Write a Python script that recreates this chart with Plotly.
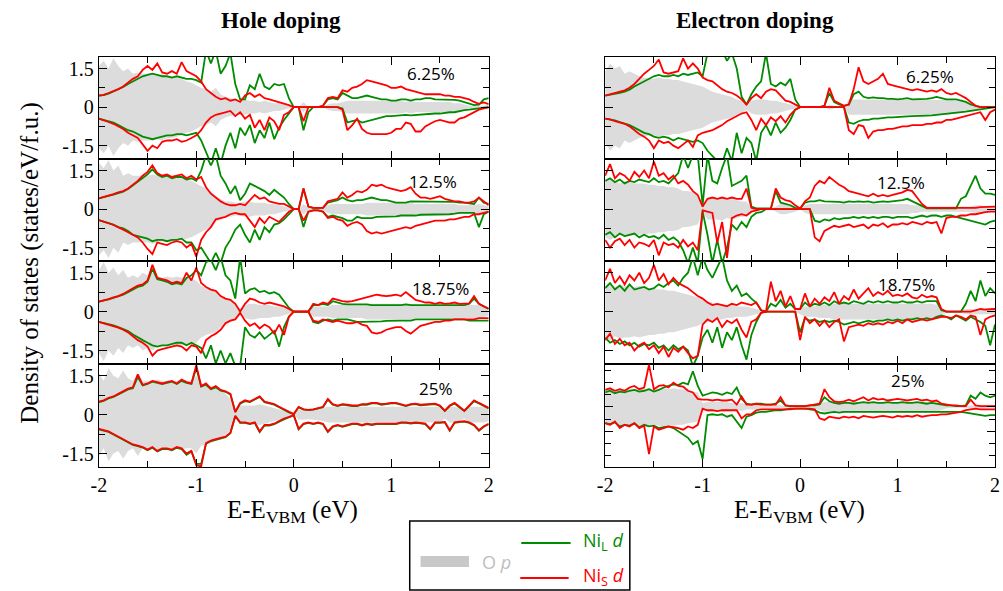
import plotly.graph_objects as go

# Energy grid (eV relative to VBM)
E = [round(-2 + 0.05 * i, 2) for i in range(81)]

# ---------------- Hole doping 6.25% ----------------
hole625_O = [1.6,1.8,1.5,1.9,1.6,1.4,1.5,1.3,1.35,1.3,
 1.3,1.3,1.25,1.3,1.2,1.2,1.15,1.1,1.0,0.95,
 0.85,0.75,0.7,0.6,0.75,0.5,0.4,0.35,0.3,0.3,
 0.3,0.25,0.25,0.2,0.25,0.2,0.15,0.15,0.1,0.05,
 0,0,0.2,0,0,0,0,0.1,0.15,0.15,
 0.2,0.25,0.25,0.25,0.25,0.25,0.25,0.25,0.25,0.25,
 0.25,0.25,0.25,0.2,0.25,0.2,0.2,0.2,0.2,0.2,
 0.2,0.2,0.2,0.15,0.15,0.1,0.05,0.03,0.05,0.05,
 0.1]
hole625_NiS_up = [0.45,0.48,0.55,0.62,0.7,0.8,0.95,1.1,1.2,1.45,
 1.6,1.45,1.7,1.35,1.3,1.4,1.3,1.75,1.4,1.3,
 1.2,1.0,0.7,0.55,0.4,0.3,0.35,0.25,0.3,0.2,
 0.45,0.55,0.4,0.5,0.35,0.3,0.25,0.2,0.15,0.08,
 0,0,0,0,0,0,0.05,0.35,0.4,0.35,
 0.65,0.6,0.75,0.8,0.9,1.05,1.0,0.95,0.9,0.85,
 0.75,0.75,0.8,0.7,0.65,0.6,0.55,0.5,0.5,0.5,
 0.5,0.45,0.45,0.4,0.4,0.35,0.3,0.2,0.13,0.18,
 0.12]
hole625_NiL_up = [0.45,0.47,0.52,0.6,0.68,0.78,0.9,1.0,1.1,1.2,
 1.25,1.3,1.25,1.2,1.2,1.15,1.2,1.15,1.1,1.1,
 1.05,0.95,2.2,1.7,2.2,1.3,1.6,2.1,0.9,0.3,
 0.3,0.85,0.7,1.3,0.8,0.7,0.9,0.85,0.9,0.35,
 0,0,0,0,0,0,0.05,0.3,0.35,0.3,
 0.55,0.45,0.35,0.35,0.4,0.45,0.4,0.35,0.3,0.3,
 0.25,0.25,0.3,0.3,0.25,0.3,0.3,0.35,0.35,0.3,
 0.3,0.3,0.3,0.28,0.25,0.2,0.15,0.08,0.1,0.3,
 0.35]
hole625_NiS_dn = [0.45,0.5,0.58,0.65,0.75,0.85,1.0,1.1,1.2,1.45,
 1.7,1.5,1.6,1.35,1.3,1.3,1.25,1.35,1.3,1.2,
 1.1,0.9,0.6,0.4,0.3,0.25,0.2,0.15,0.35,0.2,
 0.45,0.3,0.8,0.5,0.9,0.4,0.55,0.9,0.3,0.2,
 0,0,0.55,0,0,0,0,0,0,0,
 0.1,0.9,0.7,0.45,0.85,1.0,1.05,1.05,1.05,1.05,
 1.0,0.85,0.85,0.6,0.65,0.95,0.95,0.75,0.65,0.55,
 0.5,0.55,0.6,0.6,0.45,0.4,0.3,0.2,0.1,0.05,
 0.0]
hole625_NiL_dn = [0.45,0.5,0.55,0.6,0.7,0.8,0.9,0.95,1.05,1.15,
 1.2,1.25,1.2,1.15,1.1,1.1,1.05,1.05,1.1,1.05,
 1.0,1.3,1.8,2.2,1.6,2.2,1.5,1.0,1.6,0.8,
 1.1,0.7,1.4,0.9,1.2,0.6,1.25,0.8,0.5,0.25,
 0,0,0.9,0.2,0,0,0,0,0,0,
 0.05,0.6,0.55,0.5,0.6,0.55,0.5,0.45,0.4,0.35,
 0.35,0.33,0.32,0.3,0.32,0.3,0.3,0.28,0.25,0.25,
 0.25,0.22,0.2,0.2,0.15,0.12,0.1,0.08,0.05,0.02,
 0.0]

# ---------------- Hole doping 12.5% ----------------
hole125_O = [1.8,1.6,1.9,1.5,1.7,1.3,1.4,1.3,1.3,1.3,
 1.3,1.35,1.3,1.25,1.3,1.25,1.2,1.2,1.15,1.1,
 1.0,0.9,0.8,0.7,0.5,0.4,0.3,0.3,0.25,0.25,
 0.3,0.3,0.25,0.25,0.25,0.2,0.2,0.15,0.1,0.05,
 0,0,0.2,0.05,0.03,0.03,0.05,0.15,0.2,0.2,
 0.2,0.2,0.2,0.2,0.2,0.25,0.25,0.25,0.25,0.25,
 0.25,0.25,0.25,0.25,0.25,0.2,0.2,0.2,0.2,0.2,
 0.2,0.2,0.2,0.2,0.15,0.15,0.15,0.15,0.2,0.15,
 0.1]
hole125_NiS_up = [0.42,0.47,0.52,0.58,0.65,0.7,0.8,0.95,1.1,1.3,
 1.45,1.7,1.4,1.3,1.35,1.25,1.3,1.35,1.2,1.3,
 1.15,1.25,0.85,0.6,0.45,0.3,0.2,0.15,0.15,0.2,
 0.15,0.35,0.55,0.4,0.45,0.3,0.25,0.2,0.2,0.1,
 0,0,0.8,0.1,0.05,0.05,0.05,0.3,0.35,0.4,
 0.65,0.45,0.55,0.7,0.65,0.75,0.95,0.9,0.95,0.85,
 0.8,0.75,0.7,0.75,0.85,0.6,0.45,0.45,0.4,0.45,
 0.5,0.4,0.35,0.3,0.3,0.25,0.25,0.3,0.45,0.3,
 0.15]
hole125_NiL_up = [0.42,0.46,0.5,0.56,0.62,0.68,0.78,0.92,1.05,1.2,
 1.35,1.55,1.35,1.25,1.3,1.2,1.25,1.25,1.15,1.2,
 1.1,1.5,2.1,1.7,2.1,1.3,1.0,0.6,0.9,0.35,
 0.6,1.0,0.9,0.8,0.7,0.55,0.75,0.6,0.45,0.2,
 0,0,0.8,0.1,0.05,0.05,0.05,0.25,0.3,0.35,
 0.45,0.35,0.3,0.35,0.35,0.4,0.45,0.4,0.35,0.35,
 0.3,0.25,0.25,0.25,0.3,0.3,0.3,0.3,0.3,0.3,
 0.3,0.3,0.3,0.28,0.25,0.25,0.22,0.2,0.45,0.25,
 0.2]
hole125_NiS_dn = [0.43,0.48,0.55,0.62,0.7,0.8,0.9,1.0,1.1,1.3,
 1.55,1.75,1.3,1.35,1.4,1.3,1.25,1.3,1.5,1.35,
 1.85,1.2,0.9,0.7,0.4,0.35,0.3,0.2,0.15,0.2,
 0.2,0.45,0.7,0.35,0.55,0.3,0.4,0.5,0.3,0.1,
 0,0,0.45,0.1,0.05,0.05,0.1,0.35,0.3,0.4,
 0.45,0.65,0.55,0.5,0.6,0.85,0.95,0.9,0.95,0.9,
 0.85,0.8,0.75,0.7,0.75,0.65,0.6,0.55,0.5,0.45,
 0.45,0.45,0.4,0.4,0.35,0.3,0.3,0.2,0.2,0.15,
 0.1]
hole125_NiL_dn = [0.43,0.48,0.55,0.6,0.7,0.75,0.85,1.0,1.05,1.1,
 1.15,1.25,1.2,1.2,1.25,1.2,1.2,1.15,1.3,1.3,
 1.6,1.5,1.8,2.1,1.7,2.1,1.5,1.2,0.8,0.6,
 1.0,1.3,0.8,1.2,0.7,0.9,0.6,0.55,0.4,0.2,
 0,0,0.7,0.1,0.05,0.05,0.1,0.3,0.25,0.3,
 0.35,0.45,0.45,0.3,0.35,0.35,0.35,0.3,0.3,0.3,
 0.3,0.28,0.25,0.25,0.25,0.25,0.22,0.22,0.2,0.2,
 0.2,0.2,0.2,0.18,0.15,0.15,0.15,0.15,0.7,0.2,
 0.1]

# ---------------- Hole doping 18.75% ----------------
hole1875_O = [1.6,1.9,1.5,1.7,1.4,1.6,1.3,1.4,1.3,1.5,
 1.4,1.5,1.35,1.3,1.35,1.3,1.35,1.3,1.3,1.25,
 1.2,1.0,0.9,0.85,0.8,0.6,0.5,0.4,0.3,0.1,
 0.25,0.3,0.3,0.25,0.25,0.25,0.2,0.2,0.15,0.08,
 0,0,0,0,0.2,0.2,0.2,0.2,0.25,0.25,
 0.25,0.25,0.25,0.25,0.25,0.3,0.3,0.3,0.3,0.3,
 0.3,0.3,0.3,0.3,0.3,0.25,0.25,0.25,0.25,0.25,
 0.25,0.25,0.25,0.25,0.25,0.25,0.25,0.25,0.25,0.2,
 0.15]
hole1875_NiS_up = [0.38,0.42,0.48,0.55,0.6,0.68,0.8,0.9,1.0,1.05,
 1.2,1.8,1.3,1.25,1.2,1.1,1.15,1.1,1.5,1.2,
 1.7,1.1,0.95,0.85,0.8,0.6,0.5,0.45,0.3,0.0,
 0.3,0.5,0.45,0.35,0.3,0.35,0.3,0.25,0.2,0.1,
 0,0,0,0,0.3,0.25,0.35,0.3,0.5,0.45,
 0.4,0.38,0.4,0.45,0.5,0.55,0.6,0.65,0.62,0.6,
 0.62,0.65,0.6,0.75,0.6,0.45,0.4,0.35,0.35,0.3,
 0.35,0.3,0.32,0.35,0.3,0.3,0.32,0.6,0.3,0.2,
 0.12]
hole1875_NiL_up = [0.38,0.42,0.47,0.53,0.58,0.65,0.75,0.85,0.95,1.0,
 1.15,1.65,1.25,1.2,1.15,1.05,1.1,1.05,1.3,1.4,
 1.6,1.4,1.9,2.0,1.6,2.1,1.4,1.2,0.5,2.1,
 0.7,0.85,0.9,0.75,0.8,0.7,0.75,0.65,0.4,0.15,
 0,0,0,0,0.25,0.25,0.3,0.25,0.4,0.35,
 0.3,0.28,0.28,0.3,0.3,0.28,0.25,0.25,0.25,0.25,
 0.25,0.25,0.25,0.28,0.25,0.25,0.25,0.25,0.25,0.25,
 0.25,0.25,0.25,0.25,0.25,0.25,0.3,0.5,0.3,0.2,
 0.1]
hole1875_NiS_dn = [0.4,0.45,0.5,0.55,0.62,0.7,0.8,0.95,1.1,1.2,
 1.35,1.7,1.5,1.45,1.4,1.35,1.3,1.35,1.5,1.3,
 1.35,1.6,1.1,0.95,0.85,0.7,0.45,0.35,0.3,0.05,
 0.35,0.55,0.45,0.65,0.5,0.6,0.85,0.5,0.9,0.2,
 0,0,0,0,0.35,0.4,0.3,0.35,0.4,0.35,
 0.4,0.45,0.45,0.4,0.5,0.55,0.8,0.85,0.8,0.7,
 0.65,0.6,0.6,0.75,0.85,0.7,0.55,0.5,0.45,0.4,
 0.4,0.35,0.35,0.3,0.3,0.3,0.3,0.3,0.25,0.25,
 0.25]
hole1875_NiL_dn = [0.4,0.44,0.48,0.53,0.6,0.66,0.75,0.88,1.0,1.1,
 1.2,1.3,1.35,1.3,1.3,1.25,1.2,1.2,1.3,1.2,
 1.3,1.4,1.8,1.3,2.0,1.5,2.0,1.6,2.1,2.1,
 0.6,0.9,1.0,0.8,1.05,0.9,0.75,1.35,0.6,0.2,
 0,0,0,0,0.4,0.45,0.35,0.3,0.35,0.3,
 0.3,0.3,0.35,0.4,0.4,0.4,0.4,0.4,0.38,0.36,
 0.35,0.35,0.35,0.35,0.35,0.3,0.3,0.3,0.3,0.3,
 0.3,0.3,0.3,0.3,0.3,0.3,0.35,0.35,0.35,0.35,
 0.35]

# ---------------- Hole doping 25% ----------------
hole25_O = [1.6,1.3,1.8,1.5,1.4,1.7,1.4,1.3,1.6,1.3,
 1.3,1.3,1.35,1.3,1.3,1.3,1.3,1.35,1.3,1.3,
 1.5,1.2,1.15,1.1,1.0,0.9,0.8,0.6,0.1,0.35,
 0.35,0.35,0.35,0.4,0.35,0.3,0.25,0.2,0.15,0.05,
 0,0.2,0.2,0.18,0.2,0.22,0.25,0.3,0.3,0.3,
 0.3,0.3,0.3,0.3,0.3,0.3,0.3,0.3,0.3,0.3,
 0.3,0.3,0.3,0.3,0.3,0.3,0.3,0.3,0.3,0.3,
 0.3,0.15,0.3,0.3,0.25,0.15,0.3,0.3,0.3,0.3,
 0.25]
hole25_NiS_up = [0.5,0.55,0.65,0.7,0.8,0.9,1.0,1.05,1.55,1.15,
 1.2,1.3,1.25,1.2,1.25,1.3,1.2,1.35,1.25,1.2,
 1.9,1.1,1.2,1.0,1.1,0.95,0.9,0.8,0.1,0.45,
 0.55,0.5,0.6,0.7,0.5,0.45,0.4,0.3,0.2,0.1,
 0.02,0.3,0.2,0.18,0.2,0.25,0.3,0.6,0.4,0.35,
 0.4,0.38,0.35,0.35,0.4,0.4,0.45,0.45,0.4,0.42,
 0.45,0.45,0.4,0.35,0.4,0.42,0.38,0.4,0.4,0.42,
 0.35,0.15,0.35,0.45,0.3,0.15,0.35,0.55,0.45,0.35,
 0.26]
hole25_NiL_up = [0.48,0.53,0.62,0.68,0.78,0.88,0.97,1.02,1.45,1.12,
 1.18,1.27,1.22,1.18,1.22,1.27,1.18,1.3,1.22,1.18,
 1.8,1.08,1.15,0.98,1.05,0.92,0.88,0.78,0.1,0.42,
 0.52,0.48,0.58,0.68,0.48,0.43,0.38,0.28,0.18,0.08,
 0.02,0.28,0.2,0.17,0.19,0.24,0.28,0.58,0.38,0.33,
 0.38,0.36,0.33,0.33,0.38,0.38,0.43,0.43,0.38,0.4,
 0.43,0.43,0.38,0.33,0.38,0.4,0.36,0.38,0.38,0.4,
 0.33,0.14,0.33,0.43,0.28,0.14,0.33,0.52,0.43,0.33,
 0.24]
hole25_NiS_dn = [0.55,0.6,0.65,0.75,0.85,0.95,1.05,1.15,1.2,1.25,
 1.35,1.25,1.4,1.3,1.3,1.35,1.25,1.3,1.5,1.4,
 1.95,2.0,1.1,1.0,0.95,0.9,0.85,0.7,0.05,0.3,
 0.3,0.35,0.3,0.65,0.4,0.4,0.35,0.25,0.15,0.1,
 0.02,0.55,0.35,0.3,0.35,0.3,0.35,0.65,0.45,0.4,
 0.45,0.4,0.35,0.35,0.4,0.35,0.38,0.35,0.35,0.35,
 0.33,0.35,0.3,0.3,0.33,0.3,0.32,0.35,0.55,0.3,
 0.3,0.28,0.6,0.3,0.27,0.25,0.3,0.4,0.6,0.45,
 0.35]
hole25_NiL_dn = [0.57,0.62,0.67,0.77,0.87,0.97,1.07,1.17,1.22,1.27,
 1.37,1.28,1.42,1.33,1.32,1.38,1.28,1.33,1.55,1.42,
 1.9,1.9,1.12,1.02,0.97,0.92,0.87,0.72,0.05,0.32,
 0.32,0.37,0.32,0.67,0.42,0.42,0.37,0.27,0.17,0.1,
 0.02,0.57,0.37,0.32,0.37,0.32,0.37,0.67,0.47,0.42,
 0.47,0.42,0.37,0.37,0.42,0.37,0.4,0.37,0.37,0.37,
 0.35,0.37,0.32,0.32,0.35,0.32,0.34,0.37,0.57,0.32,
 0.32,0.3,0.62,0.32,0.29,0.27,0.32,0.42,0.62,0.47,
 0.37]

# ---------------- Electron doping 6.25% ----------------
elec625_O = [1.4,1.7,1.5,1.6,1.3,1.4,1.3,1.2,1.15,1.1,
 1.1,1.15,1.1,1.1,1.05,1.05,1.0,0.95,0.9,0.85,
 0.8,0.7,0.6,0.55,0.5,0.45,0.4,0.3,0.25,0.1,
 0.25,0.3,0.3,0.3,0.25,0.25,0.2,0.15,0.1,0.05,
 0,0,0,0,0,0,0.1,0.05,0,0,
 0.3,0.3,0.3,0.3,0.3,0.3,0.3,0.3,0.3,0.3,
 0.3,0.3,0.3,0.3,0.3,0.3,0.3,0.3,0.3,0.3,
 0.3,0.28,0.25,0.22,0.2,0.15,0.1,0.05,0.05,0.05,
 0.05]
elec625_NiS_up = [0.45,0.5,0.55,0.6,0.65,0.75,0.9,1.1,1.3,1.45,
 1.6,1.85,1.35,1.3,1.35,1.4,1.9,1.5,1.7,1.5,
 1.15,1.05,1.0,0.85,0.7,0.6,0.55,0.45,0.3,0.1,
 0.35,0.5,0.35,0.6,0.7,0.65,0.45,0.25,0.2,0.1,
 0,0,0,0,0,0.05,0.75,0.25,0.15,0.05,
 0.1,0.7,1.55,1.0,0.9,1.0,1.1,1.3,0.9,0.85,
 0.8,0.75,0.7,0.65,0.7,0.65,0.6,0.65,0.6,0.7,
 0.55,0.5,0.55,0.45,0.35,0.2,0.05,0,0,0,
 0]
elec625_NiL_up = [0.45,0.48,0.5,0.55,0.6,0.68,0.8,0.9,1.0,1.1,
 1.2,1.25,1.2,1.2,1.25,1.2,1.3,1.25,1.3,1.35,
 1.2,2.1,2.0,2.2,2.2,1.8,2.1,1.5,0.4,0.1,
 0.5,0.8,1.0,2.1,0.9,0.8,0.95,0.85,1.1,0.3,
 0,0,0,0,0,0.05,0.55,0.2,0.1,0.05,
 0.1,0.5,0.6,0.4,0.35,0.38,0.35,0.35,0.32,0.32,
 0.3,0.32,0.35,0.3,0.3,0.3,0.32,0.35,0.4,0.35,
 0.3,0.3,0.3,0.25,0.2,0.1,0.05,0,0,0,
 0]
elec625_NiS_dn = [0.45,0.48,0.55,0.6,0.65,0.75,0.9,1.05,1.15,1.3,
 1.6,1.3,1.4,1.35,1.5,1.6,1.45,1.3,1.55,1.1,
 1.0,0.95,0.9,0.8,0.7,0.55,0.45,0.35,0.25,0.2,
 0.5,0.9,0.45,0.7,0.4,0.55,0.35,0.6,0.3,0.1,
 0,0,0,0,0,0,0,0,0,0,
 0.9,1.05,0.7,0.75,1.2,0.95,0.9,0.9,0.85,0.85,
 0.8,0.75,0.75,0.7,0.7,0.7,0.65,0.65,0.6,0.6,
 0.5,0.5,0.45,0.4,0.35,0.3,0.25,0.2,0.5,0.2,
 0.1]
elec625_NiL_dn = [0.45,0.48,0.52,0.58,0.63,0.7,0.8,0.9,1.0,1.05,
 1.15,1.2,1.15,1.2,1.3,1.2,1.25,1.3,1.35,1.3,
 1.4,1.7,1.9,2.1,2.2,1.6,2.1,1.0,1.8,1.2,
 1.4,2.1,1.0,0.7,1.1,0.6,1.0,0.8,0.5,0.1,
 0,0,0,0,0,0,0,0,0,0,
 0.6,0.65,0.55,0.5,0.5,0.45,0.45,0.42,0.4,0.4,
 0.38,0.38,0.36,0.35,0.35,0.35,0.33,0.32,0.3,0.3,
 0.28,0.25,0.22,0.2,0.18,0.15,0.12,0.08,0.05,0.03,
 0.0]

# ---------------- Electron doping 12.5% ----------------
elec125_O = [1.1,1.2,1.1,1.0,1.1,1.05,1.0,1.0,1.0,0.95,
 0.95,0.9,0.9,0.85,0.85,0.8,0.7,0.7,0.65,0.6,
 0.1,0.4,0.4,0.4,0.45,0.35,0.4,0.35,0.3,0.3,
 0.05,0,0,0,0,0.1,0.2,0.2,0.15,0.1,
 0,0.15,0.2,0.2,0.2,0.2,0.2,0.2,0.2,0.2,
 0.2,0.2,0.2,0.2,0.2,0.2,0.2,0.2,0.2,0.2,
 0.2,0.2,0.2,0.15,0.15,0.1,0.1,0.1,0.1,0.1,
 0.1,0.1,0.1,0.1,0.1,0.1,0.15,0.15,0.1,0.1,
 0.1]
elec125_NiS_up = [1.3,1.75,1.2,1.4,1.3,1.1,1.45,1.25,1.5,1.2,
 1.85,1.3,1.4,1.15,1.3,1.0,1.1,0.95,0.7,0.55,
 0.1,0.4,0.45,0.4,0.45,0.4,0.45,0.4,0.4,0.8,
 0.05,0,0,0,0,0.8,0.45,0.35,0.3,0.15,
 0.02,0.3,0.45,0.9,1.1,1.0,1.25,1.1,0.95,0.85,
 0.7,0.65,0.6,0.55,0.5,0.6,0.5,0.55,0.5,0.55,
 0.6,0.65,0.75,0.7,0.45,0.2,0.05,0.05,0.05,0.05,
 0.05,0.05,0.05,0.05,0.05,0.05,0.05,0.08,0.08,0.1,
 0.1]
elec125_NiL_up = [1.1,1.2,1.05,1.15,1.0,1.1,1.05,1.15,1.1,1.05,
 1.2,1.05,1.1,1.0,1.2,1.4,2.1,1.6,2.1,2.1,
 0.15,2.1,1.1,1.0,1.6,2.1,0.9,1.0,1.1,1.3,
 0.1,0.03,0.03,0.03,0.03,0.7,0.25,0.2,0.15,0.05,
 0.02,0.25,0.3,0.3,0.35,0.3,0.3,0.3,0.28,0.25,
 0.3,0.28,0.3,0.28,0.3,0.25,0.28,0.3,0.28,0.3,
 0.32,0.35,0.4,0.3,0.2,0.1,0.03,0.03,0.03,0.03,
 0.03,0.03,0.03,0.4,0.5,0.9,1.3,0.8,0.6,0.6,
 0.55]
elec125_NiS_dn = [1.2,1.5,1.25,1.15,1.4,1.2,1.5,1.3,1.35,1.45,
 1.2,1.8,1.3,1.4,1.35,1.5,1.2,1.45,1.3,1.6,
 0.05,0.1,0.15,1.3,0.5,1.9,0.35,0.25,0.2,0.25,
 0.1,0.05,0,0,0,0,0,0,0,0,
 0,0,0,1.1,1.25,0.85,0.75,0.65,0.7,0.65,
 0.6,0.7,0.65,0.6,0.75,0.6,0.65,0.55,0.7,0.6,
 0.6,0.55,0.6,0.5,0.55,0.6,0.5,0.55,0.5,0.95,
 0.35,0.3,0.3,0.25,0.25,0.2,0.2,0.15,0.12,0.1,
 0.1]
elec125_NiL_dn = [1.0,0.9,1.1,0.95,1.05,1.0,0.95,1.1,1.0,1.1,
 1.05,1.15,1.0,1.2,1.1,1.25,1.6,2.1,1.5,2.1,
 0.1,1.0,2.1,1.2,2.1,1.5,0.6,0.8,0.5,0.7,
 0.3,0.15,0.12,0,0,0,0,0,0,0,
 0,0,0,0.45,0.5,0.4,0.45,0.35,0.4,0.35,
 0.35,0.3,0.35,0.3,0.35,0.3,0.35,0.3,0.3,0.35,
 0.3,0.3,0.3,0.35,0.3,0.25,0.3,0.25,0.25,0.3,
 0.25,0.25,0.3,0.35,0.4,0.45,0.5,0.55,0.6,0.5,
 0.45]

# ---------------- Electron doping 18.75% ----------------
elec1875_O = [1.0,1.1,0.95,1.05,1.0,1.0,0.95,1.0,0.95,0.9,
 0.9,0.85,0.85,0.8,0.8,0.75,0.7,0.65,0.6,0.55,
 0.45,0.4,0.35,0.3,0.3,0.25,0.25,0.2,0.2,0.2,
 0.15,0.1,0.05,0,0,0,0,0,0,0,
 0.1,0.2,0.2,0.2,0.25,0.25,0.25,0.3,0.3,0.3,
 0.3,0.3,0.3,0.3,0.3,0.3,0.3,0.3,0.3,0.3,
 0.3,0.3,0.3,0.3,0.3,0.3,0.3,0.3,0.25,0.1,
 0.05,0.05,0.05,0.05,0.1,0.1,0.1,0.1,0.1,0.1,
 0.1]
elec1875_NiS_up = [1.2,1.65,1.1,1.35,1.05,1.4,1.2,1.5,1.1,1.3,
 1.8,1.2,1.45,1.05,1.3,1.1,1.0,0.9,0.75,0.6,
 0.5,0.35,0.25,0.3,0.25,0.2,0.3,0.25,0.35,0.3,
 0.25,0.35,0.05,0,1.15,0.4,0.8,0.2,0.6,0.1,
 0.1,0.7,0.2,0.5,0.3,0.55,0.4,0.75,0.3,0.6,
 0.45,0.85,0.5,0.7,0.9,0.6,0.75,0.65,0.8,0.6,
 0.65,0.6,0.7,0.55,0.5,0.65,0.55,0.6,0.55,0.1,
 0,0,0,0,0,0,0.05,0.1,0.08,0.1,
 0.1]
elec1875_NiL_up = [0.9,1.1,0.85,1.0,0.8,1.05,0.85,0.9,0.95,0.85,
 0.9,1.05,0.95,1.1,1.2,1.0,1.3,1.5,2.1,1.4,
 2.1,1.6,1.3,1.7,2.1,1.2,0.8,1.0,0.6,0.7,
 0.5,0.35,0.05,0,0.3,0.2,0.45,0.15,0.3,0.1,
 0.1,0.35,0.2,0.3,0.25,0.35,0.25,0.4,0.3,0.35,
 0.3,0.4,0.35,0.3,0.4,0.35,0.4,0.35,0.4,0.35,
 0.35,0.4,0.35,0.35,0.4,0.35,0.4,0.4,0.4,0.05,
 0,0,0,0,0.3,0.8,0.4,1.2,0.6,0.9,
 0.7]
elec1875_NiS_dn = [1.1,0.85,1.25,1.05,1.3,1.2,1.5,1.3,1.2,1.45,
 1.3,1.6,1.35,1.75,1.4,1.55,1.35,1.6,1.8,1.7,
 0.5,0.3,0.4,0.25,0.6,0.35,0.45,0.3,0.7,1.0,
 0.4,0.3,0.05,0,0,0,0,0,0,0,
 1.1,0.2,0.45,0.3,0.55,0.35,0.6,0.4,0.3,1.15,
 0.6,0.55,0.5,0.55,0.45,0.5,0.45,0.5,0.4,0.45,
 0.35,0.45,0.3,0.4,0.35,0.3,0.35,0.3,0.25,0.2,
 0.2,0.25,0.15,0.2,0.3,0.15,0.2,0.9,0.3,0.2,
 0.15]
elec1875_NiL_dn = [1.0,1.2,1.1,1.25,1.15,1.3,1.2,1.35,1.25,1.3,
 1.2,1.4,1.3,1.5,1.3,1.45,1.35,1.5,2.1,1.7,
 1.0,0.7,1.2,0.6,1.4,0.8,1.1,0.6,1.3,1.85,
 0.9,0.4,0.05,0,0,0,0,0,0,0,
 0.8,0.25,0.35,0.3,0.4,0.35,0.4,0.35,0.4,0.5,
 0.45,0.4,0.45,0.4,0.35,0.4,0.35,0.35,0.3,0.35,
 0.3,0.35,0.3,0.3,0.25,0.3,0.25,0.3,0.2,0.15,
 0.2,0.3,0.15,0.25,0.35,0.2,0.3,0.4,0.55,1.3,
 0.5]

# ---------------- Electron doping 25% ----------------
elec25_O = [1.1,1.2,1.0,1.15,1.1,1.15,1.1,1.2,1.1,1.15,
 1.1,1.15,1.2,1.1,1.15,1.1,1.1,1.0,0.95,0.9,
 0.25,0.3,0.3,0.3,0.3,0.3,0.25,0.2,0.25,0.15,
 0.15,0.15,0.1,0.1,0.1,0.1,0.1,0.05,0.05,0.05,
 0.05,0.05,0.05,0.1,0.2,0.3,0.3,0.3,0.3,0.3,
 0.3,0.3,0.3,0.3,0.3,0.3,0.3,0.3,0.3,0.3,
 0.3,0.3,0.3,0.3,0.3,0.3,0.3,0.3,0.3,0.2,
 0.1,0.05,0.05,0.05,0.05,0.1,0.1,0.1,0.1,0.1,
 0.1]
elec25_NiS_up = [1.05,1.15,1.0,1.1,1.0,1.2,1.3,1.1,1.2,2.6,
 1.1,1.3,1.35,1.2,1.5,1.3,1.25,1.0,0.9,0.5,
 0.45,0.45,0.4,0.45,0.4,0.4,0.45,0.15,0.65,0.15,
 0.15,0.2,0.15,0.15,0.15,0.15,0.6,0.1,0.05,0.05,
 0.05,0.05,0.1,0.15,0.2,1.1,0.6,0.35,0.3,0.35,
 0.45,0.35,0.5,0.6,0.4,0.55,0.45,0.5,0.4,0.45,
 0.5,0.45,0.4,0.45,0.5,0.4,0.45,0.35,0.4,0.2,
 0.15,0.1,0.1,0.05,0.05,0.45,0.1,0.05,0.05,0.05,
 0.05]
elec25_NiL_up = [0.9,1.0,0.85,0.95,0.9,1.0,1.05,0.95,1.0,1.1,
 0.95,1.05,1.2,1.3,1.4,1.35,1.5,1.4,2.2,1.3,
 0.7,0.8,0.9,0.85,0.75,0.9,0.8,1.2,0.5,0.2,
 0.15,0.2,0.2,0.15,0.15,0.2,0.4,0.1,0.05,0.05,
 0.05,0.05,0.1,0.1,0.15,0.6,0.35,0.25,0.2,0.25,
 0.25,0.2,0.25,0.3,0.25,0.3,0.25,0.25,0.3,0.25,
 0.25,0.3,0.25,0.25,0.3,0.25,0.2,0.25,0.2,0.15,
 0.1,0.1,0.05,0.05,0.1,0.7,0.5,0.9,0.7,0.6,
 0.7]
elec25_NiS_dn = [1.0,1.1,0.9,1.3,1.1,1.2,1.0,1.3,1.15,2.9,
 1.2,1.4,1.3,1.2,1.25,1.3,1.4,1.2,1.3,1.1,
 0.1,0.2,0.2,0.25,0.2,0.2,0.2,0.2,0.7,0.45,
 0.45,0.2,0.15,0.15,0.15,0.15,0.15,0.15,0.15,0.1,
 0.1,0.1,0.1,0.15,0.7,0.8,0.6,0.65,0.7,0.6,
 0.65,0.6,0.7,0.55,0.6,0.65,0.6,0.55,0.6,0.65,
 0.55,0.6,0.55,0.6,0.5,0.6,0.55,0.5,0.5,0.45,
 0.45,0.4,0.35,0.3,0.2,0.15,0.1,0.15,0.15,0.15,
 0.15]
elec25_NiL_dn = [1.0,1.05,0.95,1.2,1.1,1.15,1.0,1.25,1.1,1.2,
 1.15,1.3,1.25,1.2,1.3,1.5,1.7,1.9,2.3,2.1,
 3.2,0.5,0.45,0.5,0.45,0.6,0.5,0.9,1.3,0.6,
 0.5,0.35,0.3,0.3,0.25,0.2,0.2,0.15,0.1,0.1,
 0.1,0.1,0.15,0.2,0.35,0.4,0.35,0.3,0.35,0.3,
 0.3,0.3,0.3,0.3,0.3,0.3,0.3,0.3,0.3,0.3,
 0.3,0.3,0.3,0.3,0.3,0.3,0.3,0.3,0.3,0.3,
 0.3,0.3,0.3,0.3,0.35,0.4,0.45,0.5,0.55,0.5,
 0.5]

doping_labels = ["6.25%", "12.5%", "18.75%", "25%"]
column_titles = ["Hole doping", "Electron doping"]

panels = [
    # (col, row, O, NiL_up, NiL_dn, NiS_up, NiS_dn)
    (0, 0, hole625_O, hole625_NiL_up, hole625_NiL_dn, hole625_NiS_up, hole625_NiS_dn),
    (0, 1, hole125_O, hole125_NiL_up, hole125_NiL_dn, hole125_NiS_up, hole125_NiS_dn),
    (0, 2, hole1875_O, hole1875_NiL_up, hole1875_NiL_dn, hole1875_NiS_up, hole1875_NiS_dn),
    (0, 3, hole25_O, hole25_NiL_up, hole25_NiL_dn, hole25_NiS_up, hole25_NiS_dn),
    (1, 0, elec625_O, elec625_NiL_up, elec625_NiL_dn, elec625_NiS_up, elec625_NiS_dn),
    (1, 1, elec125_O, elec125_NiL_up, elec125_NiL_dn, elec125_NiS_up, elec125_NiS_dn),
    (1, 2, elec1875_O, elec1875_NiL_up, elec1875_NiL_dn, elec1875_NiS_up, elec1875_NiS_dn),
    (1, 3, elec25_O, elec25_NiL_up, elec25_NiL_dn, elec25_NiS_up, elec25_NiS_dn),
]

for p in panels:
    for arr in p[2:]:
        if len(arr) != len(E):
            raise ValueError(f"panel {p[0]},{p[1]} has array of length {len(arr)}")

W, H = 1003, 591
GRAY = "rgb(220,220,220)"
GREEN = "rgb(0,139,0)"
RED = "rgb(255,0,0)"
SERIF = "Liberation Serif, Times New Roman, serif"
SANS = "Open Sans, sans-serif"

col_px = [(92, 487), (605, 1000)]
row_px = [(57, 159), (159, 261), (261, 364), (364, 467)]

def fx(x):
    return x / W

def fy(y):
    return 1 - y / H

fig = go.Figure()
layout = {}
for k, (c, r, O, Lu, Ld, Su, Sd) in enumerate(panels):
    n = k + 1
    xa, ya = ("x", "y") if n == 1 else (f"x{n}", f"y{n}")
    common = dict(xaxis=xa, yaxis=ya, showlegend=False, hoverinfo="skip", mode="lines")
    fig.add_trace(go.Scatter(x=E + E[::-1], y=O + [-v for v in O[::-1]], fill="toself",
                             fillcolor=GRAY, line=dict(width=0, color=GRAY), **common))
    fig.add_trace(go.Scatter(x=E, y=Lu, line=dict(color=GREEN, width=1.8), **common))
    fig.add_trace(go.Scatter(x=E, y=[-v for v in Ld], line=dict(color=GREEN, width=1.8), **common))
    fig.add_trace(go.Scatter(x=E, y=Su, line=dict(color=RED, width=1.8), **common))
    fig.add_trace(go.Scatter(x=E, y=[-v for v in Sd], line=dict(color=RED, width=1.8), **common))

    x0, x1 = col_px[c]
    y0, y1 = row_px[r]
    yrange = [-3.7, 2.65] if (c == 1 and r == 3) else [-2.02, 1.95]
    bottom = (r == 3)
    layout["xaxis" + ("" if n == 1 else str(n))] = dict(
        domain=[fx(x0), fx(x1)], anchor=ya, range=[-2, 2],
        showline=True, linecolor="black", linewidth=1, mirror="ticks",
        ticks="inside", ticklen=8, tickwidth=1.2, tickcolor="black",
        tickvals=[-2, -1, 0, 1, 2], ticktext=["-2", "-1", "0", "1", "2"],
        showticklabels=bottom, tickfont=dict(family=SERIF, size=20, color="black"),
        minor=dict(dtick=0.5, tick0=0, ticklen=6, tickwidth=1.2, tickcolor="black", ticks="inside"),
        showgrid=False, zeroline=False, fixedrange=True)
    layout["yaxis" + ("" if n == 1 else str(n))] = dict(
        domain=[fy(y1), fy(y0)], anchor=xa, range=yrange,
        showline=True, linecolor="black", linewidth=1, mirror="ticks",
        ticks="inside", ticklen=8, tickwidth=1.2, tickcolor="black",
        tickvals=[-1.5, 0, 1.5], ticktext=["-1.5", "0", "1.5"],
        showticklabels=(c == 0), tickfont=dict(family=SERIF, size=20, color="black"),
        minor=dict(dtick=0.75, tick0=0, ticklen=6, tickwidth=1.2, tickcolor="black", ticks="inside"),
        showgrid=False, zeroline=False, fixedrange=True)

# percentage labels inside panels
label_pos = [(429, 73), (431, 182), (438, 288), (434, 388),
             (934, 77), (905, 183), (910, 284), (912, 380)]
annotations = []
for k, (c, r, *_rest) in enumerate(panels):
    lx, ly = label_pos[k]
    annotations.append(dict(x=fx(lx), y=fy(ly), xref="paper", yref="paper", text=doping_labels[r],
                            showarrow=False, xanchor="center", yanchor="middle",
                            font=dict(family=SANS, size=17, color="black")))

# column titles
for (tx, ty), t in zip([(277, 20), (757, 20)], column_titles):
    annotations.append(dict(x=fx(tx), y=fy(ty), xref="paper", yref="paper", text=f"<b>{t}</b>",
                            showarrow=False, xanchor="center", yanchor="middle",
                            font=dict(family=SERIF, size=23, color="black")))

# x-axis titles
for tx in (288, 802):
    annotations.append(dict(x=fx(tx), y=fy(511), xref="paper", yref="paper",
                            text="E-E<sub>VBM</sub> (eV)", showarrow=False,
                            xanchor="center", yanchor="middle",
                            font=dict(family=SERIF, size=25, color="black")))

# y-axis title
annotations.append(dict(x=fx(22), y=fy(263), xref="paper", yref="paper",
                        text="Density of states (states/eV/f.u.)", textangle=-90,
                        showarrow=False, xanchor="center", yanchor="middle",
                        font=dict(family=SERIF, size=25, color="black")))

# legend texts
annotations += [
    dict(x=fx(478), y=fy(562), xref="paper", yref="paper", text="O <i>p</i>", showarrow=False,
         xanchor="left", yanchor="middle", font=dict(family=SANS, size=18, color="rgb(190,190,190)")),
    dict(x=fx(581), y=fy(541), xref="paper", yref="paper", text="Ni<sub>L</sub> <i>d</i>", showarrow=False,
         xanchor="left", yanchor="middle", font=dict(family=SANS, size=18, color=GREEN)),
    dict(x=fx(581), y=fy(576), xref="paper", yref="paper", text="Ni<sub>S</sub> <i>d</i>", showarrow=False,
         xanchor="left", yanchor="middle", font=dict(family=SANS, size=18, color=RED)),
]

shapes = [
    dict(type="rect", xref="paper", yref="paper", x0=fx(407), x1=fx(630), y0=fy(590), y1=fy(521),
         line=dict(color="black", width=1.5), fillcolor="rgba(0,0,0,0)"),
    dict(type="rect", xref="paper", yref="paper", x0=fx(418), x1=fx(467), y0=fy(567), y1=fy(556),
         line=dict(width=0), fillcolor="rgb(200,200,200)"),
    dict(type="line", xref="paper", yref="paper", x0=fx(520), x1=fx(570), y0=fy(543), y1=fy(543),
         line=dict(color=GREEN, width=1.8)),
    dict(type="line", xref="paper", yref="paper", x0=fx(519), x1=fx(568), y0=fy(578), y1=fy(578),
         line=dict(color=RED, width=1.8)),
]

fig.update_layout(
    width=W, height=H, autosize=False,
    margin=dict(l=0, r=0, t=0, b=0),
    paper_bgcolor="white", plot_bgcolor="white",
    annotations=annotations, shapes=shapes,
    **layout,
)

fig.write_html("out.html", config={"displayModeBar": False})
